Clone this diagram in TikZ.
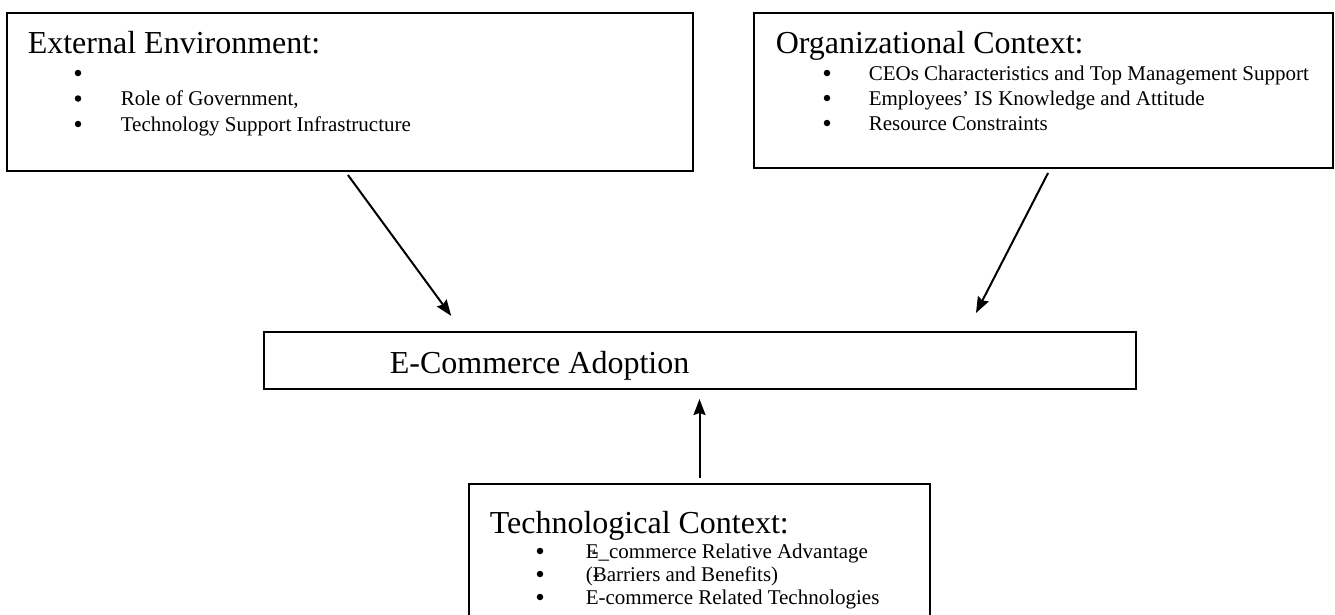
\documentclass[tikz,border=0pt]{standalone}
\usepackage{fontspec}
\setmainfont{Liberation Serif}
\usetikzlibrary{arrows.meta,calc}

\begin{document}
\begin{tikzpicture}[x=1pt,y=-1pt,>={Stealth[length=16pt,width=12pt,inset=2pt]},
	line width=1.6pt]
	\tikzstyle{box}=[draw,rectangle,anchor=north west,inner sep=0pt,outer sep=0pt]
	\tikzstyle{head}=[anchor=base west,inner sep=0pt,font=\fontsize{32}{36}\selectfont]
	\tikzstyle{item}=[anchor=base west,inner sep=0pt,font=\fontsize{21}{25}\selectfont]
	\tikzstyle{dot}=[circle,fill,draw=none,inner sep=0pt,minimum size=6.5pt]
	\tikzstyle{link}=[->,line width=2pt]

	\useasboundingbox (0,0) rectangle (1335,614);

	% boxes
	\node[box,minimum width=686pt,minimum height=158pt] (ext)   at (7,13)    {};
	\node[box,minimum width=579pt,minimum height=155pt] (org)   at (754,13)  {};
	\node[box,minimum width=872pt,minimum height=57pt]  (adopt) at (264,332) {};
	\node[box,minimum width=461pt,minimum height=140pt] (tech)  at (469,484) {};

	% external environment
	\node[head] (exthead) at (27,53) {External Environment:};
	\foreach \i in {1,2,3}
		\node[dot] (extdot\i) at (78,{47.5+25.5*\i}) {};
	\foreach \txt [count=\i from 2] in {{Role of Government,},{Technology Support Infrastructure}}
		\node[item] (extitem\i) at (120,{54.5+25.5*\i}) {\txt};

	% organizational context
	\node[head] (orghead) at (775,53) {Organizational Context:};
	\foreach \txt [count=\i] in {{CEOs Characteristics and Top Management Support},
		{Employees’ IS Knowledge and Attitude},{Resource Constraints}} {
		\node[dot]  (orgdot\i)  at (827,{48+25*\i}) {};
		\node[item] (orgitem\i) at (868,{55+25*\i}) {\txt};
	}

	% adoption
	\node[head] (adopttxt) at (389,373) {E-Commerce Adoption};

	% technological context
	\node[head] (techhead) at (489,533) {Technological Context:};
	\foreach \txt/\y [count=\i] in {{E\llap{-}\_commerce Relative Advantage}/558,
		{(\rlap{-}Barriers and Benefits)}/581,{E-commerce Related Technologies}/604} {
		\node[dot]  (techdot\i)  at (540,\y-7) {};
		\node[item] (techitem\i) at (585,\y) {\txt};
	}

	% arrows
	\draw[link,shorten <=5pt,shorten >=20pt] ($(ext.south west)+(338,0)$) -- ($(adopt.north west)+(199,0)$);
	\draw[link,shorten <=5.6pt,shorten >=21.4pt] ($(org.south west)+(296.6,0)$) -- ($(adopt.north west)+(702.2,0)$);
	\draw[link,shorten <=6pt,shorten >=10pt] (tech.north) -- (tech.north |- adopt.south);
\end{tikzpicture}
\end{document}
